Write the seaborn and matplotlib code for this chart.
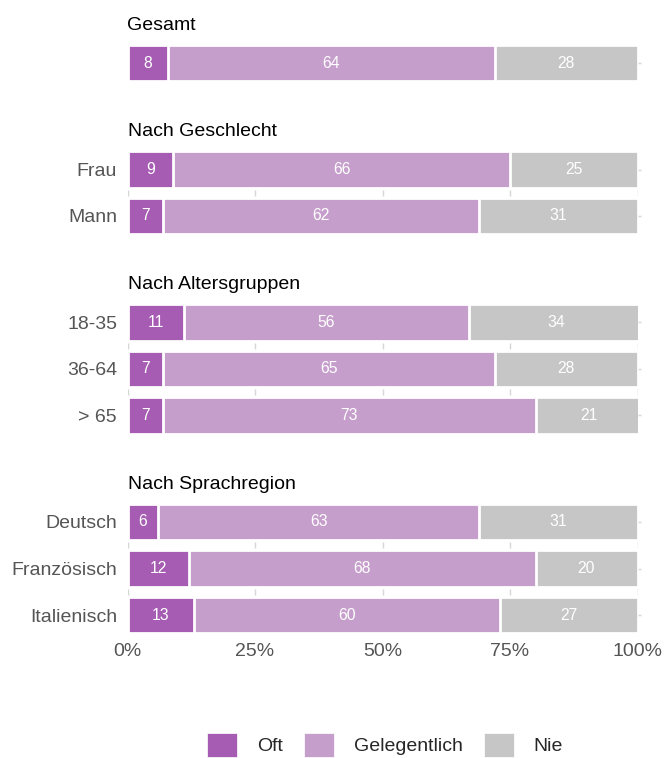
import matplotlib
matplotlib.use("Agg")
import matplotlib.pyplot as plt
from matplotlib.patches import Patch
import seaborn as sns
import pandas as pd

# Survey answers in percent, per group and row
group_titles = ["Gesamt", "Nach Geschlecht", "Nach Altersgruppen", "Nach Sprachregion"]
group_rows = [
    [""],
    ["Frau", "Mann"],
    ["18-35", "36-64", "> 65"],
    ["Deutsch", "Französisch", "Italienisch"],
]
oft = [8, 9, 7, 11, 7, 7, 6, 12, 13]
gelegentlich = [64, 66, 62, 56, 65, 73, 63, 68, 60]
nie = [28, 25, 31, 34, 28, 21, 31, 20, 27]
answers = ["Oft", "Gelegentlich", "Nie"]
x_ticks = [0, 25, 50, 75, 100]
x_tick_labels = ["0%", "25%", "50%", "75%", "100%"]

colors = {"Oft": "#A55CB2", "Gelegentlich": "#C69ECC", "Nie": "#C6C6C6"}

sns.set_theme(style="white")
plt.rcParams["font.family"] = ["Liberation Sans", "DejaVu Sans"]

rows = []
k = 0
for title, labels in zip(group_titles, group_rows):
    for lab in labels:
        rows.append({"group": title, "label": lab,
                     "Oft": oft[k], "Gelegentlich": gelegentlich[k], "Nie": nie[k]})
        k += 1
df = pd.DataFrame(rows)
df["c_oft"] = df["Oft"]
df["c_gel"] = df["Oft"] + df["Gelegentlich"]
df["c_nie"] = df["Oft"] + df["Gelegentlich"] + df["Nie"]

# Layout in pixels
W, H = 665, 758
left_px, right_px = 127.5, 637.5
row_px = 46.5
gap_px = 60.0
top_px = 39.75

fig = plt.figure(figsize=(W / 100, H / 100), dpi=100)

label_color = "#555555"
tick_color = "#D6D6D6"
edge_w = 2.0
bar_w = 0.79

y_top = top_px
for gi, (title, labels) in enumerate(zip(group_titles, group_rows)):
    n = len(labels)
    h = n * row_px
    ax = fig.add_axes([left_px / W, 1 - (y_top + h) / H, (right_px - left_px) / W, h / H])
    sub = df[df["group"] == title]

    # Stack by overlaying cumulative totals, widest first
    for col, ans in [("c_nie", "Nie"), ("c_gel", "Gelegentlich"), ("c_oft", "Oft")]:
        sns.barplot(data=sub, x=col, y="label", order=labels, color=colors[ans],
                    saturation=1, width=bar_w, edgecolor="white", linewidth=edge_w,
                    errorbar=None, orient="h", ax=ax)

    # Segment values
    for i, (_, r) in enumerate(sub.iterrows()):
        start = 0
        for ans in answers:
            v = r[ans]
            ax.text(start + v / 2, i, f"{v}", ha="center", va="center",
                    color="white", fontsize=11.3)
            start += v

    # Small separators between rows at the x tick positions
    for i in range(n - 1):
        ax.vlines(x_ticks, i + 0.5 - 0.065, i + 0.5 + 0.065, color=tick_color, lw=1)

    ax.set_xlim(0, 100)
    ax.set_ylim(n - 0.5, -0.5)
    ax.set_xlabel("")
    ax.set_ylabel("")
    for s in ax.spines.values():
        s.set_visible(False)
    ax.tick_params(axis="y", left=False, right=True, labelleft=True, labelright=False,
                   length=2, width=1, color=tick_color, pad=5.5,
                   labelsize=14, labelcolor=label_color)
    ax.set_xticks(x_ticks)
    if gi == len(group_titles) - 1:
        ax.set_xticklabels(x_tick_labels)
        ax.tick_params(axis="x", bottom=False, length=0, pad=3.5,
                       labelsize=14, labelcolor=label_color)
    else:
        ax.tick_params(axis="x", bottom=False, labelbottom=False)
    ax.set_title(title, loc="left", pad=7.2, fontsize=14, color="black")

    y_top += h + gap_px

handles = [Patch(facecolor=colors[a], edgecolor="white", linewidth=0.5) for a in answers]
fig.legend(handles, answers, loc="center", bbox_to_anchor=(385 / W, 1 - 745 / H),
           ncol=3, frameon=False, fontsize=14, handlelength=1.55, handleheight=1.55,
           handletextpad=1.0, columnspacing=1.1, borderpad=0)

fig.savefig("out.png", dpi=100)
